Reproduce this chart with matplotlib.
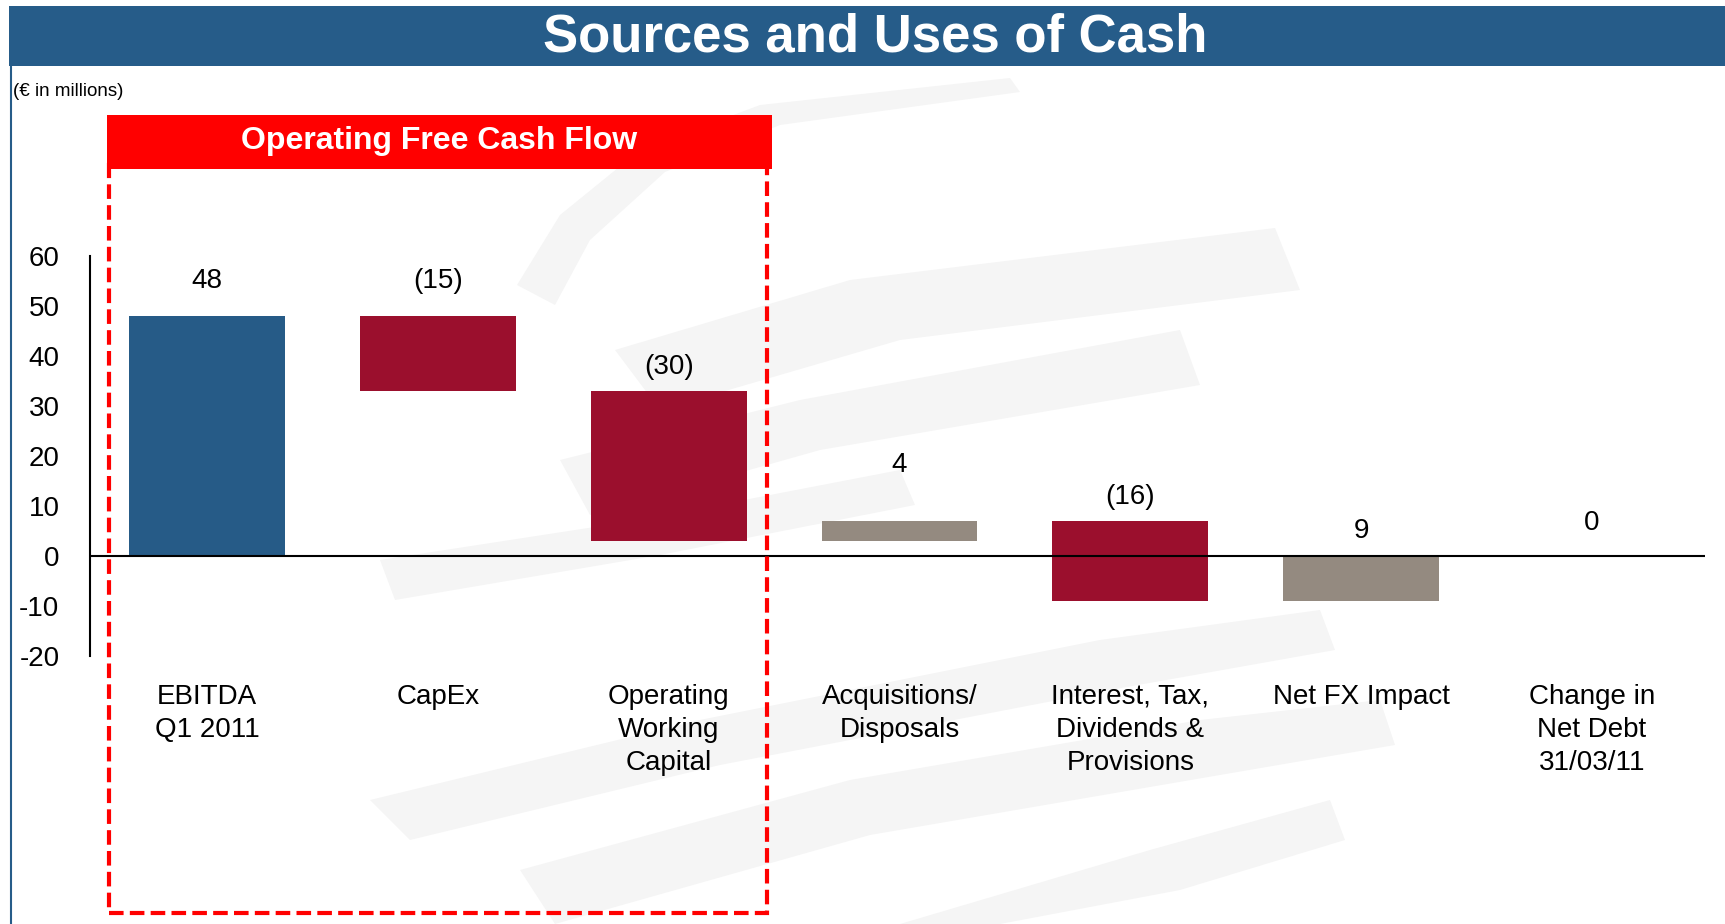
import matplotlib
matplotlib.use("Agg")
import matplotlib.pyplot as plt
from matplotlib.patches import Rectangle, Polygon
from matplotlib.lines import Line2D
import numpy as np

plt.rcParams['font.family'] = ['Liberation Sans', 'DejaVu Sans']
plt.rcParams['axes.unicode_minus'] = False

# data
categories = ["EBITDA\nQ1 2011", "CapEx", "Operating\nWorking\nCapital",
              "Acquisitions/\nDisposals", "Interest, Tax,\nDividends &\nProvisions",
              "Net FX Impact", "Change in\nNet Debt\n31/03/11"]
changes = [48, -15, -30, 4, -16, 9, 0]
value_labels = ["48", "(15)", "(30)", "4", "(16)", "9", "0"]
kinds = ["total", "use", "use", "other", "use", "other", "total"]

colors = {"total": "#265B87", "use": "#9B0F2D", "other": "#948A80"}
label_offsets = [25, 25, 17, 40, 17, 18, 24]  # points above bar top

W, H = 1725, 924
fig = plt.figure(figsize=(W / 100, H / 100), dpi=100)
fig.patch.set_facecolor("white")

def px(x, y):
    return (x / W, 1 - y / H)

# faint watermark swooshes (pixel coords)
swooshes = [
    [(517, 285), (560, 215), (640, 150), (760, 105), (1010, 78), (1020, 92), (780, 125), (665, 172), (590, 240), (555, 305)],
    [(615, 350), (850, 280), (1275, 228), (1300, 290), (900, 340), (660, 410)],
    [(560, 460), (800, 400), (1180, 330), (1200, 385), (820, 450), (590, 515)],
    [(380, 560), (640, 520), (900, 470), (915, 505), (660, 555), (395, 600)],
    [(370, 800), (700, 720), (1100, 640), (1320, 610), (1335, 650), (1110, 690), (720, 765), (410, 840)],
    [(520, 870), (850, 780), (1200, 720), (1380, 700), (1395, 745), (1220, 775), (870, 835), (555, 924)],
    [(900, 924), (1150, 850), (1330, 800), (1345, 840), (1180, 890), (1000, 924)],
]
for pts in swooshes:
    fig.patches.append(Polygon([px(x, y) for x, y in pts], closed=True,
                               transform=fig.transFigure, facecolor="#F5F5F5",
                               edgecolor="none", zorder=-5))

# title bar
fig.patches.append(Rectangle(px(9, 66), (W - 9) / W, 60 / H, transform=fig.transFigure,
                             facecolor="#265C89", edgecolor="none", zorder=1))
fig.lines.append(Line2D([11 / W, 11 / W], [1 - 66 / H, 0], transform=fig.transFigure,
                        color="#265C89", lw=1.5))
fig.text(875 / W, 1 - 37 / H, "Sources and Uses of Cash", color="white",
         fontsize=38, fontweight="bold", ha="center", va="center")
fig.text(13 / W, 1 - 91 / H, "(€ in millions)", fontsize=13.5, ha="left", va="center")

# operating free cash flow box (drawn over the top edge of the dashed frame)
fig.patches.append(Rectangle(px(109, 913), 658 / W, 748 / H, transform=fig.transFigure,
                             fill=False, edgecolor="#FF0000", lw=3,
                             linestyle=(0, (3.5, 1.5)), zorder=5))
fig.patches.append(Rectangle(px(107, 169), 665 / W, 54 / H, transform=fig.transFigure,
                             facecolor="#FF0000", edgecolor="none", zorder=6))
fig.text(439 / W, 1 - 141 / H, "Operating Free Cash Flow", color="white",
         fontsize=23, fontweight="bold", ha="center", va="center", zorder=7)

# chart
ax = fig.add_axes([90 / W, 1 - 656 / H, 1615 / W, 400 / H])
ax.patch.set_alpha(0)

ends = np.cumsum(changes)
starts = ends - np.array(changes)
x = np.arange(len(categories))
bottoms = np.minimum(starts, ends)
heights = np.abs(changes)
ax.bar(x, heights, bottom=bottoms, width=0.675,
       color=[colors[k] for k in kinds], zorder=2)

for xi, top, lab, off in zip(x, np.maximum(starts, ends), value_labels, label_offsets):
    ax.annotate(lab, (xi, top), xytext=(0, off), textcoords="offset points",
                ha="center", va="center", fontsize=20)

ax.axhline(0, color="black", lw=1.5, zorder=3)
ax.set_xlim(-0.507, 6.49)
ax.set_ylim(-20, 60)
ax.set_yticks(range(-20, 61, 10))
ax.set_xticks(x)
ax.set_xticklabels(categories, fontsize=20, linespacing=1.36, va="top")
ax.tick_params(axis="y", length=0, pad=22, labelsize=20)
ax.tick_params(axis="x", length=0, pad=20)
for s in ["top", "right", "bottom"]:
    ax.spines[s].set_visible(False)
ax.spines["left"].set_linewidth(1.5)

fig.savefig("out.png", dpi=100)
